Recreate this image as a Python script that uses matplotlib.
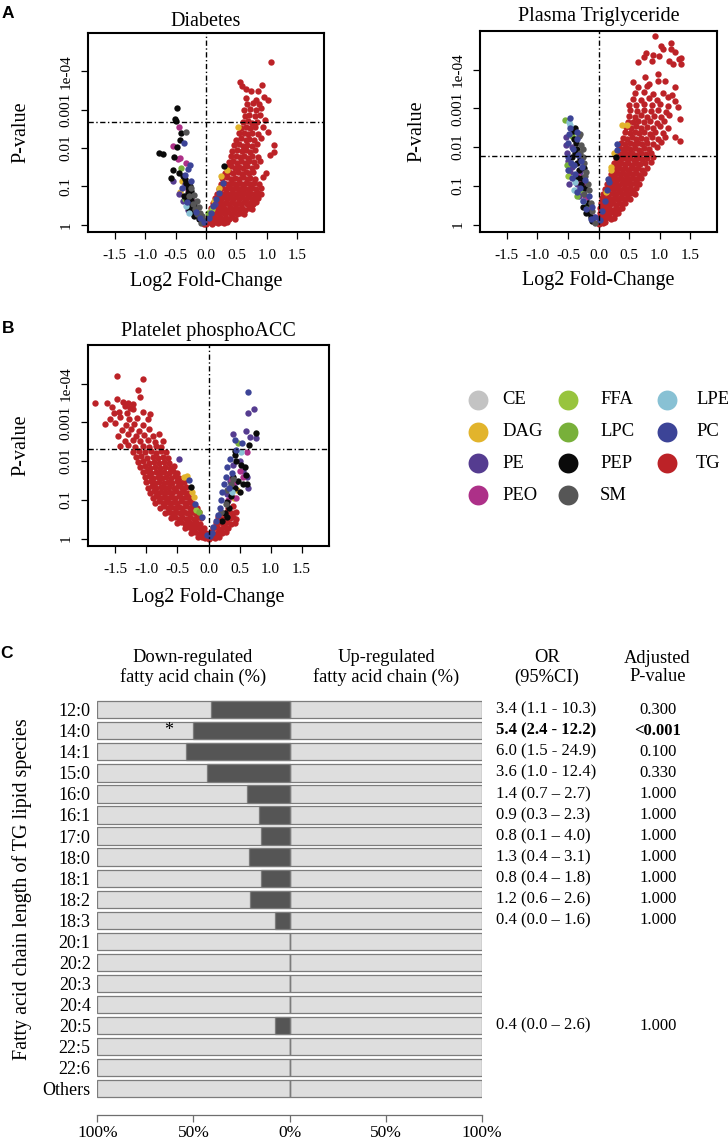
import matplotlib
matplotlib.use("Agg")
import matplotlib.pyplot as plt
from matplotlib.transforms import blended_transform_factory

plt.rcParams['font.family'] = ['Liberation Serif', 'DejaVu Serif']

W, H = 728, 1144

# lipid classes, legend order (column by column) and colours
CLASSES = ["CE", "DAG", "PE", "PEO", "FFA", "LPC", "PEP", "SM", "LPE", "PC", "TG"]
COLORS = ["#c3c3c3", "#e2b42c", "#553c90", "#ad3088", "#98c43e", "#78b03a",
          "#0a0a0a", "#565656", "#88c1d4", "#3c4497", "#bc2227"]

XTICKS = [-1.5, -1.0, -0.5, 0.0, 0.5, 1.0, 1.5]
XTICK_LABELS = ["-1.5", "-1.0", "-0.5", "0.0", "0.5", "1.0", "1.5"]
YTICKS = [0, 1, 2, 3, 4]  # -log10(p)
YTICK_LABELS = ["1", "0.1", "0.01", "0.001", "1e-04"]

# ---- Diabetes: (log2 fold-change, -log10 p) ----
diab_tg = [
    (-0.04, 0.03), (0.0, 0.02), (0.05, 0.06), (0.1, 0.03), (0.15, 0.07), (0.2, 0.04), (0.25, 0.08), (0.3, 0.05), (0.35, 0.07),
    (0.03, 0.17), (0.08, 0.14), (0.13, 0.19), (0.18, 0.15), (0.23, 0.2), (0.28, 0.15), (0.33, 0.18), (0.38, 0.14), (0.43, 0.19), (0.47, 0.16),
    (0.06, 0.3), (0.11, 0.27), (0.16, 0.32), (0.21, 0.28), (0.26, 0.33), (0.31, 0.29), (0.36, 0.34), (0.41, 0.28), (0.46, 0.32), (0.51, 0.27), (0.56, 0.31), (0.62, 0.29),
    (0.09, 0.43), (0.14, 0.4), (0.19, 0.45), (0.24, 0.41), (0.29, 0.44), (0.34, 0.39), (0.39, 0.45), (0.44, 0.41), (0.49, 0.44), (0.54, 0.4), (0.59, 0.43), (0.64, 0.39), (0.7, 0.44), (0.76, 0.41),
    (0.12, 0.56), (0.17, 0.53), (0.22, 0.58), (0.27, 0.54), (0.32, 0.57), (0.37, 0.53), (0.42, 0.58), (0.47, 0.54), (0.52, 0.57), (0.57, 0.53), (0.62, 0.58), (0.67, 0.54), (0.72, 0.57), (0.77, 0.53), (0.82, 0.58),
    (0.15, 0.69), (0.2, 0.72), (0.25, 0.68), (0.3, 0.71), (0.35, 0.67), (0.4, 0.72), (0.45, 0.68), (0.5, 0.71), (0.55, 0.67), (0.6, 0.72), (0.65, 0.68), (0.7, 0.71), (0.75, 0.67), (0.8, 0.72), (0.86, 0.69),
    (0.18, 0.81), (0.23, 0.84), (0.28, 0.8), (0.33, 0.83), (0.38, 0.79), (0.43, 0.84), (0.48, 0.8), (0.53, 0.83), (0.58, 0.79), (0.63, 0.84), (0.68, 0.8), (0.73, 0.83), (0.79, 0.79), (0.85, 0.84), (0.9, 0.81),
    (0.21, 0.94), (0.27, 0.97), (0.33, 0.93), (0.39, 0.96), (0.45, 0.92), (0.51, 0.97), (0.57, 0.93), (0.63, 0.96), (0.69, 0.92), (0.75, 0.97), (0.82, 0.93), (0.9, 0.97),
    (0.24, 1.07), (0.3, 1.1), (0.36, 1.06), (0.42, 1.09), (0.48, 1.05), (0.54, 1.1), (0.6, 1.06), (0.66, 1.09), (0.72, 1.05), (0.79, 1.1), (0.87, 1.07),
    (0.27, 1.21), (0.34, 1.24), (0.41, 1.2), (0.48, 1.23), (0.55, 1.19), (0.61, 1.24), (0.67, 1.2), (0.73, 1.23), (0.8, 1.19), (0.94, 1.25),
    (0.31, 1.36), (0.38, 1.38), (0.45, 1.34), (0.52, 1.37), (0.59, 1.33), (0.65, 1.38), (0.71, 1.34), (0.78, 1.37), (0.98, 1.35),
    (0.34, 1.5), (0.41, 1.52), (0.48, 1.48), (0.55, 1.51), (0.61, 1.47), (0.68, 1.52), (0.75, 1.49), (0.83, 1.53),
    (0.37, 1.64), (0.45, 1.66), (0.51, 1.62), (0.58, 1.65), (0.64, 1.61), (0.71, 1.66), (0.79, 1.63), (0.89, 1.67),
    (0.41, 1.78), (0.49, 1.8), (0.56, 1.76), (0.63, 1.79), (0.69, 1.75), (0.76, 1.8), (0.86, 1.77), (1.06, 1.81), (1.12, 1.9),
    (0.43, 1.93), (0.51, 1.95), (0.59, 1.91), (0.66, 1.94), (0.73, 1.9), (0.81, 1.95), (1.11, 2.08),
    (0.46, 2.08), (0.54, 2.1), (0.61, 2.06), (0.68, 2.09), (0.75, 2.05), (0.84, 2.1),
    (0.5, 2.22), (0.58, 2.25), (0.65, 2.21), (0.71, 2.24), (0.79, 2.2), (0.91, 2.26),
    (0.55, 2.38), (0.62, 2.4), (0.69, 2.36), (0.76, 2.39), (0.86, 2.37), (1.02, 2.42),
    (0.58, 2.52), (0.66, 2.55), (0.73, 2.51), (0.81, 2.54), (0.93, 2.56),
    (0.61, 2.68), (0.69, 2.7), (0.76, 2.66), (0.84, 2.69), (0.97, 2.72),
    (0.64, 2.84), (0.71, 2.87), (0.8, 2.83), (0.88, 2.86),
    (0.62, 3.0), (0.73, 3.02), (0.83, 2.98), (0.91, 3.04),
    (0.67, 3.15), (0.77, 3.18), (0.87, 3.14),
    (0.66, 3.3), (0.82, 3.26), (1.02, 3.26), (0.95, 3.32),
    (0.66, 3.54), (0.74, 3.48), (0.85, 3.5), (0.92, 3.65), (0.6, 3.63), (0.56, 3.72), (1.07, 4.24),
]
diab_pep = [(-0.48, 3.05), (-0.51, 2.77), (-0.49, 2.7), (-0.41, 2.4), (-0.42, 2.22), (-0.47, 2.02), (-0.77, 1.86),
            (-0.71, 1.85), (-0.53, 1.77), (-0.54, 1.44), (-0.58, 1.22), (-0.44, 1.35), (-0.38, 1.27), (-0.33, 1.09),
            (-0.27, 1.0), (-0.25, 0.88), (-0.3, 0.83), (-0.36, 0.75), (-0.25, 0.7), (-0.19, 0.57), (-0.27, 0.57),
            (-0.16, 0.44), (-0.21, 0.36), (-0.19, 0.22), (-0.3, 0.95), (-0.32, 0.65), (-0.23, 0.48), (-0.35, 1.18),
            (0.3, 1.53), (-0.12, 0.15), (-0.28, 0.42)]
diab_peo = [(-0.45, 2.55), (-0.55, 2.05), (-0.42, 1.74), (-0.46, 1.72), (-0.33, 1.6), (-0.3, 0.9), (-0.2, 0.6), (-0.25, 0.45)]
diab_sm = [(-0.33, 2.42), (-0.25, 0.95), (-0.2, 0.78), (-0.15, 0.62), (-0.22, 0.55), (-0.12, 0.45), (-0.18, 0.4),
           (-0.1, 0.3), (-0.07, 0.22), (-0.14, 0.28), (-0.05, 0.12), (-0.28, 0.75), (-0.09, 0.05)]
diab_pc = [(-0.36, 2.12), (-0.27, 1.56), (-0.3, 1.45), (-0.34, 1.3), (-0.24, 1.15), (-0.4, 0.95), (-0.31, 0.58),
           (-0.17, 0.32), (-0.1, 0.18), (0.22, 0.83), (0.17, 0.66), (0.11, 0.48), (0.08, 0.31), (0.05, 0.17),
           (0.28, 1.1), (-0.04, 0.08)]
diab_pe = [(-0.54, 1.13), (-0.45, 0.8), (-0.38, 0.62), (-0.29, 0.38), (-0.35, 1.05), (-0.2, 0.25), (0.14, 0.55)]
diab_dag = [(0.52, 2.55), (0.25, 1.27), (0.35, 1.42), (0.21, 0.96), (-0.39, 1.13), (-0.43, 0.86), (-0.26, 0.8), (0.13, 0.62)]
diab_lpe = [(-0.33, 0.5), (-0.28, 0.3)]
diab_lpc = [(-0.41, 1.48), (0.04, 0.3), (-0.35, 0.68)]
diab_ffa = [(0.1, 0.42)]

# ---- Plasma Triglyceride ----
tg_tg = [
    (0.0, 0.02), (0.03, 0.06), (0.07, 0.04), (0.11, 0.08),
    (0.01, 0.17), (0.05, 0.15), (0.09, 0.19), (0.13, 0.16), (0.17, 0.2), (0.21, 0.15), (0.26, 0.18),
    (0.02, 0.3), (0.07, 0.28), (0.12, 0.32), (0.17, 0.29), (0.22, 0.33), (0.27, 0.28), (0.32, 0.31),
    (0.03, 0.42), (0.08, 0.44), (0.13, 0.4), (0.18, 0.43), (0.23, 0.39), (0.28, 0.44), (0.33, 0.41), (0.38, 0.43),
    (0.04, 0.55), (0.09, 0.52), (0.14, 0.56), (0.19, 0.53), (0.24, 0.57), (0.29, 0.52), (0.34, 0.56), (0.39, 0.53), (0.44, 0.57),
    (0.06, 0.68), (0.11, 0.66), (0.16, 0.7), (0.21, 0.66), (0.26, 0.69), (0.31, 0.65), (0.36, 0.7), (0.41, 0.67), (0.46, 0.7), (0.51, 0.66),
    (0.08, 0.8), (0.13, 0.83), (0.18, 0.79), (0.23, 0.82), (0.28, 0.78), (0.33, 0.83), (0.38, 0.79), (0.43, 0.82), (0.48, 0.78), (0.54, 0.82), (0.59, 0.79),
    (0.11, 0.93), (0.16, 0.91), (0.21, 0.95), (0.26, 0.91), (0.31, 0.94), (0.36, 0.9), (0.41, 0.95), (0.46, 0.91), (0.51, 0.94), (0.56, 0.9), (0.62, 0.95),
    (0.14, 1.06), (0.19, 1.08), (0.24, 1.04), (0.29, 1.07), (0.34, 1.03), (0.39, 1.08), (0.44, 1.05), (0.49, 1.08), (0.54, 1.04), (0.6, 1.07), (0.66, 1.05),
    (0.17, 1.19), (0.22, 1.17), (0.27, 1.21), (0.32, 1.17), (0.37, 1.2), (0.42, 1.16), (0.47, 1.21), (0.52, 1.17), (0.57, 1.2), (0.63, 1.17), (0.7, 1.21),
    (0.2, 1.32), (0.25, 1.3), (0.3, 1.34), (0.35, 1.3), (0.4, 1.33), (0.45, 1.29), (0.5, 1.34), (0.55, 1.3), (0.61, 1.33), (0.67, 1.29), (0.75, 1.34),
    (0.23, 1.45), (0.28, 1.43), (0.33, 1.47), (0.38, 1.43), (0.43, 1.46), (0.48, 1.42), (0.53, 1.47), (0.59, 1.43), (0.65, 1.46), (0.72, 1.42), (0.8, 1.47),
    (0.25, 1.58), (0.31, 1.56), (0.37, 1.6), (0.43, 1.56), (0.49, 1.59), (0.55, 1.55), (0.61, 1.6), (0.68, 1.56), (0.76, 1.59), (0.86, 1.62),
    (0.28, 1.71), (0.34, 1.69), (0.4, 1.73), (0.46, 1.69), (0.52, 1.72), (0.58, 1.68), (0.65, 1.73), (0.72, 1.69), (0.8, 1.72), (0.9, 1.75),
    (0.31, 1.84), (0.37, 1.82), (0.43, 1.86), (0.49, 1.82), (0.55, 1.85), (0.62, 1.81), (0.69, 1.86), (0.77, 1.82), (0.86, 1.86),
    (0.34, 1.97), (0.4, 1.95), (0.46, 1.99), (0.52, 1.95), (0.59, 1.98), (0.66, 1.94), (0.74, 1.99), (0.83, 1.95), (0.95, 2.0),
    (0.37, 2.1), (0.44, 2.08), (0.51, 2.12), (0.58, 2.08), (0.65, 2.11), (0.72, 2.07), (0.8, 2.12), (0.9, 2.08), (1.02, 2.13),
    (0.4, 2.24), (0.47, 2.22), (0.55, 2.26), (0.62, 2.22), (0.7, 2.25), (0.78, 2.21), (0.87, 2.26), (0.97, 2.22), (1.09, 2.27), (1.25, 2.26),
    (0.43, 2.38), (0.51, 2.36), (0.59, 2.4), (0.67, 2.36), (0.75, 2.39), (0.84, 2.35), (0.93, 2.4), (1.06, 2.37), (1.33, 2.17),
    (0.45, 2.52), (0.53, 2.5), (0.62, 2.54), (0.7, 2.5), (0.79, 2.53), (0.89, 2.49), (1.0, 2.54), (1.13, 2.5),
    (0.48, 2.66), (0.56, 2.64), (0.65, 2.68), (0.74, 2.64), (0.84, 2.67), (0.95, 2.63), (1.08, 2.68),
    (0.5, 2.8), (0.6, 2.78), (0.7, 2.82), (0.8, 2.78), (0.91, 2.81), (1.03, 2.77), (1.15, 2.84), (1.33, 2.73),
    (0.52, 2.95), (0.63, 2.93), (0.74, 2.97), (0.86, 2.93), (0.98, 2.96), (1.1, 2.92),
    (0.5, 3.1), (0.62, 3.08), (0.75, 3.12), (0.88, 3.08), (1.01, 3.11), (1.14, 3.07), (1.3, 3.03),
    (0.56, 3.25), (0.7, 3.23), (0.83, 3.27), (0.96, 3.23), (1.14, 3.29), (1.25, 3.2),
    (0.6, 3.4), (0.74, 3.42), (0.9, 3.38), (1.05, 3.41), (1.2, 3.36),
    (0.65, 3.55), (0.8, 3.57), (0.98, 3.72), (1.09, 3.72), (1.25, 3.55),
    (0.57, 3.68), (0.76, 3.8), (0.82, 3.63), (0.98, 3.89),
    (0.93, 4.87), (1.02, 4.62), (1.18, 4.68), (1.06, 4.54), (1.19, 4.54), (0.99, 4.36), (1.25, 4.45),
    (1.35, 4.3), (1.35, 4.15), (1.31, 4.28), (1.16, 4.23), (1.22, 4.15), (0.77, 4.42), (0.75, 4.32),
    (0.65, 4.19), (0.9, 4.39), (0.88, 4.22),
]
tg_pc = [(-0.47, 2.76), (-0.35, 2.39), (-0.48, 2.35), (-0.5, 2.1), (-0.36, 2.2), (-0.42, 1.95), (-0.33, 1.8),
         (-0.5, 1.75), (-0.45, 1.6), (-0.28, 1.65), (-0.27, 1.5), (-0.5, 1.4), (-0.38, 1.3), (-0.44, 1.2),
         (-0.22, 1.15), (-0.3, 0.95), (-0.36, 0.85), (-0.15, 0.75), (-0.26, 0.62), (-0.1, 0.45), (-0.2, 0.4),
         (-0.05, 0.2), (-0.12, 0.15), (0.3, 2.09), (0.3, 1.94), (0.16, 1.19), (0.17, 1.1), (0.14, 0.9),
         (0.1, 0.6), (0.06, 0.35), (0.02, 0.12), (-0.4, 1.55), (-0.46, 2.5)]
tg_pe = [(-0.53, 2.27), (-0.52, 1.85), (-0.5, 1.65), (-0.44, 1.5), (-0.4, 1.2), (-0.35, 1.05), (-0.25, 0.85),
         (-0.2, 0.65), (-0.48, 1.05), (-0.3, 1.35), (-0.43, 2.0), (-0.54, 2.05), (-0.46, 1.35), (-0.32, 0.75),
         (-0.14, 0.35)]
tg_pep = [(-0.4, 2.2), (-0.37, 2.12), (-0.43, 1.75), (-0.36, 1.6), (-0.3, 1.7), (-0.32, 1.4), (-0.27, 1.2),
          (-0.22, 0.95), (-0.18, 0.55), (-0.15, 0.3), (-0.12, 0.2), (-0.25, 0.45), (0.28, 1.74), (-0.38, 1.85),
          (-0.34, 1.2), (-0.2, 0.3), (-0.38, 2.5), (-0.41, 2.42), (-0.35, 1.95), (-0.28, 1.05), (-0.1, 0.1),
          (-0.24, 1.45)]
tg_sm = [(-0.3, 2.35), (-0.32, 2.28), (-0.26, 1.95), (-0.24, 1.6), (-0.2, 1.35), (-0.18, 1.05), (-0.23, 0.78),
         (-0.13, 0.55), (-0.1, 0.35), (-0.16, 0.9), (-0.22, 1.25), (-0.28, 2.05), (-0.3, 1.85), (-0.06, 0.05),
         (-0.25, 1.75)]
tg_peo = [(-0.3, 1.1), (-0.27, 1.0), (-0.22, 0.7), (-0.16, 0.5), (-0.34, 1.25), (-0.08, 0.2), (-0.31, 0.92), (-0.2, 1.05)]
tg_lpc = [(-0.55, 2.69), (-0.43, 2.3), (-0.52, 1.55), (-0.27, 0.9), (-0.35, 0.75), (-0.2, 0.5)]
tg_ffa = [(-0.5, 1.25)]
tg_lpe = [(-0.48, 2.65), (-0.46, 2.57), (-0.38, 1.1), (-0.4, 0.9), (-0.25, 0.6)]
tg_dag = [(0.38, 2.58), (0.46, 2.58), (0.21, 1.5), (0.21, 1.4), (0.13, 0.84), (0.25, 1.85)]

# ---- Platelet phosphoACC ----
acc_tg = [
    (-0.17, 0.03), (-0.11, 0.05), (-0.05, 0.02), (0.0, 0.0), (0.05, 0.04), (0.11, 0.02), (0.17, 0.05),
    (-0.28, 0.15), (-0.22, 0.17), (-0.16, 0.13), (-0.1, 0.16), (-0.04, 0.14), (0.04, 0.16), (0.1, 0.13), (0.16, 0.17), (0.22, 0.14), (0.28, 0.16),
    (-0.38, 0.28), (-0.32, 0.3), (-0.26, 0.26), (-0.2, 0.29), (-0.14, 0.25), (-0.08, 0.28), (0.08, 0.27), (0.14, 0.3), (0.2, 0.26), (0.26, 0.29), (0.32, 0.27),
    (-0.5, 0.41), (-0.44, 0.43), (-0.38, 0.39), (-0.32, 0.42), (-0.26, 0.38), (-0.2, 0.42), (-0.14, 0.39), (0.12, 0.4), (0.18, 0.43), (0.24, 0.39), (0.3, 0.42), (0.36, 0.38), (0.42, 0.41),
    (-0.6, 0.54), (-0.54, 0.56), (-0.48, 0.52), (-0.42, 0.55), (-0.36, 0.51), (-0.3, 0.55), (-0.24, 0.52), (-0.18, 0.56), (-0.12, 0.53), (0.16, 0.55), (0.22, 0.52), (0.28, 0.56), (0.34, 0.53), (0.4, 0.56), (0.44, 0.52),
    (-0.7, 0.67), (-0.64, 0.7), (-0.58, 0.66), (-0.52, 0.69), (-0.46, 0.65), (-0.4, 0.69), (-0.34, 0.66), (-0.28, 0.7), (-0.22, 0.66), (-0.16, 0.69), (0.22, 0.66), (0.3, 0.7), (0.38, 0.66), (0.44, 0.69),
    (-0.78, 0.8), (-0.72, 0.83), (-0.66, 0.79), (-0.6, 0.82), (-0.54, 0.78), (-0.48, 0.82), (-0.42, 0.79), (-0.36, 0.83), (-0.3, 0.79), (-0.24, 0.82), (-0.19, 0.8), (0.32, 0.8), (0.4, 0.83),
    (-0.86, 0.93), (-0.8, 0.96), (-0.74, 0.92), (-0.68, 0.95), (-0.62, 0.91), (-0.56, 0.95), (-0.5, 0.92), (-0.44, 0.96), (-0.38, 0.92), (-0.32, 0.95), (-0.26, 0.92),
    (-0.9, 1.06), (-0.84, 1.09), (-0.78, 1.05), (-0.72, 1.08), (-0.66, 1.04), (-0.6, 1.08), (-0.54, 1.05), (-0.48, 1.09), (-0.42, 1.05), (-0.36, 1.08), (-0.3, 1.05),
    (-0.94, 1.19), (-0.88, 1.22), (-0.82, 1.18), (-0.76, 1.21), (-0.7, 1.17), (-0.64, 1.21), (-0.58, 1.18), (-0.52, 1.22), (-0.46, 1.18), (-0.4, 1.21), (-0.33, 1.18),
    (-0.98, 1.32), (-0.91, 1.35), (-0.84, 1.31), (-0.77, 1.34), (-0.7, 1.3), (-0.63, 1.34), (-0.56, 1.31), (-0.49, 1.35), (-0.42, 1.31), (-0.36, 1.33),
    (-1.0, 1.45), (-0.93, 1.48), (-0.86, 1.44), (-0.79, 1.47), (-0.72, 1.43), (-0.65, 1.47), (-0.58, 1.44), (-0.51, 1.48), (-0.44, 1.44), (-0.39, 1.46),
    (-1.03, 1.58), (-0.96, 1.61), (-0.89, 1.57), (-0.82, 1.6), (-0.75, 1.56), (-0.68, 1.6), (-0.61, 1.57), (-0.54, 1.61), (-0.47, 1.57),
    (-1.06, 1.71), (-0.99, 1.74), (-0.92, 1.7), (-0.85, 1.73), (-0.78, 1.69), (-0.71, 1.73), (-0.64, 1.7), (-0.57, 1.74), (-0.5, 1.7),
    (-1.1, 1.84), (-1.02, 1.87), (-0.94, 1.83), (-0.86, 1.86), (-0.78, 1.82), (-0.7, 1.86), (-0.62, 1.83), (-0.55, 1.87),
    (-1.14, 1.97), (-1.05, 2.0), (-0.96, 1.96), (-0.88, 1.99), (-0.8, 1.95), (-0.72, 1.99), (-0.64, 1.96),
    (-1.17, 2.1), (-1.08, 2.13), (-0.99, 2.09), (-0.9, 2.12), (-0.82, 2.08), (-0.74, 2.12), (-0.66, 2.09),
    (-1.22, 2.24), (-1.12, 2.27), (-1.02, 2.23), (-0.93, 2.26), (-0.84, 2.22), (-0.76, 2.26), (-0.68, 2.23),
    (-1.42, 2.38), (-1.3, 2.41), (-1.18, 2.37), (-1.06, 2.4), (-0.95, 2.36), (-0.85, 2.4), (-0.76, 2.37),
    (-1.35, 2.52), (-1.22, 2.55), (-1.1, 2.51), (-0.98, 2.54), (-0.86, 2.5), (-0.74, 2.53),
    (-1.45, 2.66), (-1.3, 2.69), (-1.16, 2.65), (-1.04, 2.68), (-0.9, 2.64), (-0.8, 2.7),
    (-1.4, 2.8), (-1.25, 2.83), (-1.12, 2.79), (-0.96, 2.82),
    (-1.66, 2.95), (-1.5, 2.98), (-1.33, 2.94), (-1.2, 2.97), (-1.05, 2.93),
    (-1.59, 3.1), (-1.42, 3.13), (-1.28, 3.09), (-1.15, 3.12), (-0.97, 3.08),
    (-1.52, 3.25), (-1.44, 3.28), (-1.32, 3.24), (-1.05, 3.27), (-0.94, 3.23),
    (-1.56, 3.4), (-1.35, 3.42), (-1.27, 3.38), (-1.22, 3.36),
    (-1.83, 3.5), (-1.64, 3.5), (-1.48, 3.61), (-1.38, 3.52), (-1.3, 3.5), (-1.22, 3.48),
    (-1.1, 3.67), (-1.13, 3.85), (-1.06, 4.11), (-1.48, 4.19),
]
acc_pc = [(0.63, 3.78), (0.54, 2.47), (0.42, 2.55), (0.35, 2.05), (0.3, 1.85), (0.28, 1.6), (0.25, 1.4), (0.22, 1.2),
          (0.2, 1.0), (0.18, 0.8), (0.15, 0.6), (0.12, 0.45), (0.08, 0.3), (0.05, 0.15), (0.38, 1.7), (0.33, 1.3),
          (-0.32, 1.52), (-0.22, 0.9), (-0.1, 0.56), (0.45, 2.3), (0.02, 0.08), (-0.03, 0.1)]
acc_pe = [(0.74, 3.35), (0.64, 3.25), (0.4, 2.69), (0.6, 2.77), (0.77, 2.6), (0.67, 2.62), (0.62, 1.6), (0.64, 1.3),
          (0.5, 2.0), (0.45, 1.45), (0.35, 1.5), (0.3, 1.15), (-0.47, 2.06), (0.56, 1.75), (0.4, 1.9)]
acc_pep = [(0.77, 2.73), (0.65, 2.42), (0.42, 2.27), (0.42, 2.15), (0.45, 2.0), (0.52, 1.9), (0.58, 1.85), (0.6, 1.65),
           (0.55, 1.4), (0.47, 1.5), (0.4, 1.6), (0.35, 1.3), (0.37, 1.1), (0.3, 0.95), (0.33, 0.8), (0.26, 0.65),
           (0.3, 0.55), (0.22, 0.45), (0.62, 1.4), (-0.28, 1.33), (0.5, 1.2), (0.42, 1.3)]
acc_peo = [(0.62, 2.25), (0.55, 1.6), (0.5, 1.75), (0.4, 1.4), (0.32, 1.0), (0.45, 1.05), (0.36, 1.55)]
acc_sm = [(0.36, 1.4), (0.3, 1.25), (0.28, 0.9), (0.4, 1.55), (0.2, 0.7)]
acc_lpe = [(0.53, 2.25), (0.38, 1.2)]
acc_lpc = [(0.48, 2.47), (-0.15, 0.68)]
acc_ffa = [(-0.2, 0.75)]
acc_dag = [(0.41, 1.05), (0.46, 1.25), (-0.4, 1.58), (-0.26, 1.2), (-0.23, 1.07), (-0.34, 1.63)]

# significance cut-offs (-log10 p)
diab_cut, tg_cut, acc_cut = 2.67, 1.77, 2.31

# ---- panel C: TG fatty acid chains ----
chain_labels = ["12:0", "14:0", "14:1", "15:0", "16:0", "16:1", "17:0", "18:0", "18:1", "18:2",
                "18:3", "20:1", "20:2", "20:3", "20:4", "20:5", "22:5", "22:6", "Others"]
down_pct = [41, 50, 54, 43, 22, 16, 15, 21, 15, 20.5, 7.5, 0, 0, 0, 0, 7.5, 0, 0, 0]
up_pct = [0, 0, 0, 0, 0, 0, 0, 0, 0, 0, 0, 0, 0, 0, 0, 0, 0, 0, 0]
or_text = ["3.4 (1.1 - 10.3)", "5.4 (2.4 - 12.2)", "6.0 (1.5 - 24.9)", "3.6 (1.0 - 12.4)",
           "1.4 (0.7 \u2013 2.7)", "0.9 (0.3 \u2013 2.3)", "0.8 (0.1 \u2013 4.0)", "1.3 (0.4 \u2013 3.1)",
           "0.8 (0.4 \u2013 1.8)", "1.2 (0.6 \u2013 2.6)", "0.4 (0.0 \u2013 1.6)", "", "", "", "",
           "0.4 (0.0 \u2013 2.6)", "", "", ""]
p_text = ["0.300", "<0.001", "0.100", "0.330", "1.000", "1.000", "1.000", "1.000", "1.000", "1.000",
          "1.000", "", "", "", "", "1.000", "", "", ""]
bold_rows = [1]
star_rows = [1]

DOTDASH = (0, (3.8, 1.8, 1, 1.8))

fig = plt.figure(figsize=(W / 100, H / 100), dpi=100)

# pixel-coordinate overlay for free text and legend
ov = fig.add_axes([0, 0, 1, 1])
ov.set_xlim(0, W)
ov.set_ylim(H, 0)
ov.set_axis_off()


def px_axes(x0, y0, x1, y1):
    return fig.add_axes([x0 / W, 1 - y1 / H, (x1 - x0) / W, (y1 - y0) / H])


def volcano(ax, title, groups, cut, title_pad, ylab_x, xlab_y):
    order = ["TG"] + [c for c in CLASSES if c != "TG"]
    for cls in order:
        pts = groups.get(cls, [])
        if not pts:
            continue
        ax.scatter([p[0] for p in pts], [p[1] for p in pts], s=21,
                   color=COLORS[CLASSES.index(cls)], linewidths=0, zorder=2)
    ax.axvline(0, color="black", lw=1.0, ls=DOTDASH, zorder=3)
    ax.axhline(cut, color="black", lw=1.0, ls=DOTDASH, zorder=3)
    ax.set_xlim(-1.94, 1.94)
    ax.set_ylim(-0.19, 5.0)
    ax.set_xticks(XTICKS)
    ax.set_xticklabels(XTICK_LABELS)
    ax.set_yticks(YTICKS)
    ax.set_yticklabels(YTICK_LABELS, rotation=90, va="center")
    ax.tick_params(direction="out", length=5, width=0.9, labelsize=11)
    ax.tick_params(axis="x", pad=7)
    ax.tick_params(axis="y", pad=6)
    for sp in ax.spines.values():
        sp.set_linewidth(1.5)
    ax.set_title(title, fontsize=14.5, pad=title_pad)
    ax.set_xlabel("Log2 Fold-Change", fontsize=14.5, va="center")
    ax.xaxis.set_label_coords(0.5, xlab_y)
    ax.set_ylabel("P-value", fontsize=14.5, va="center")
    ax.yaxis.set_label_coords(ylab_x, 0.5)


ax1 = px_axes(88, 33, 324, 232)
volcano(ax1, "Diabetes",
        {"TG": diab_tg, "PEP": diab_pep, "PEO": diab_peo, "SM": diab_sm, "PC": diab_pc, "PE": diab_pe,
         "DAG": diab_dag, "LPE": diab_lpe, "LPC": diab_lpc, "FFA": diab_ffa},
        diab_cut, 4.8, -0.285, -0.251)

ax2 = px_axes(480, 31, 717, 232)
volcano(ax2, "Plasma Triglyceride",
        {"TG": tg_tg, "PC": tg_pc, "PE": tg_pe, "PEP": tg_pep, "SM": tg_sm, "PEO": tg_peo,
         "LPC": tg_lpc, "FFA": tg_ffa, "LPE": tg_lpe, "DAG": tg_dag},
        tg_cut, 7.0, -0.265, -0.24)

ax3 = px_axes(88, 345, 329, 546)
volcano(ax3, "Platelet phosphoACC",
        {"TG": acc_tg, "PC": acc_pc, "PE": acc_pe, "PEP": acc_pep, "PEO": acc_peo, "SM": acc_sm,
         "LPE": acc_lpe, "LPC": acc_lpc, "FFA": acc_ffa, "DAG": acc_dag},
        acc_cut, 6.5, -0.279, -0.254)

# legend
leg_cx = [478, 568, 667]
leg_tx = [502, 600, 696]
leg_cy = [400, 431.7, 463.3, 495]
for i, cls in enumerate(CLASSES):
    col, row = i // 4, i % 4
    ov.scatter([leg_cx[col]], [leg_cy[row]], s=205, color=COLORS[i], linewidths=0)
    ov.text(leg_tx[col], leg_cy[row], cls, fontsize=13.4, ha="left", va="center")

# panel letters
for letter, (lx, ly) in zip("ABC", [(2, 18.3), (1.5, 333.3), (0.5, 657.5)]):
    ov.text(lx, ly, letter, fontsize=12.5, fontweight="bold", family="Liberation Sans",
            ha="left", va="baseline")

# ---- panel C ----
axc = px_axes(97.3, 699.2, 482, 1115)
rows = list(range(len(chain_labels)))
LIGHT, DARK, EDGE = "#dedede", "#555555", "#7c7c7c"
axc.barh(rows, -100, height=0.82, color=LIGHT, edgecolor=EDGE, lw=0.9)
axc.barh(rows, 100, height=0.82, color=LIGHT, edgecolor=EDGE, lw=0.9)
axc.barh(rows, [-v for v in down_pct], height=0.82, color=DARK, edgecolor=EDGE, lw=0.9)
axc.barh(rows, up_pct, height=0.82, color=DARK, edgecolor=EDGE, lw=0.9)
axc.set_xlim(-100, 100)
axc.set_ylim(19.25, -0.5)
axc.set_xticks([-100, -50, 0, 50, 100])
axc.set_xticklabels(["100%", "50%", "0%", "50%", "100%"])
axc.set_yticks(rows)
axc.set_yticklabels(chain_labels)
for side in ["top", "left", "right"]:
    axc.spines[side].set_visible(False)
axc.spines["bottom"].set_color("#6e6e6e")
axc.spines["bottom"].set_linewidth(0.9)
axc.tick_params(axis="x", length=5, width=0.9, color="#6e6e6e", labelsize=12.5, pad=2.5)
axc.tick_params(axis="y", length=0, labelsize=13, pad=4.8)
for r in star_rows:
    axc.text(-62.7, r, "*", fontsize=13, ha="center", va="center")

tr = blended_transform_factory(ov.transData, axc.transData)
for r in rows:
    wt = "bold" if r in bold_rows else "normal"
    if or_text[r]:
        ov.text(496.5, r, or_text[r], transform=tr, fontsize=12, fontweight=wt, ha="left", va="center")
    if p_text[r]:
        ov.text(657.7, r, p_text[r], transform=tr, fontsize=12, fontweight=wt, ha="center", va="center")

ov.text(193, 667.5, "Down-regulated\nfatty acid chain (%)", fontsize=13.3, ha="center", va="center", linespacing=1.15)
ov.text(386, 667.5, "Up-regulated\nfatty acid chain (%)", fontsize=13.3, ha="center", va="center", linespacing=1.15)
ov.text(546.7, 667.5, "OR\n(95%CI)", fontsize=13.3, ha="center", va="center", linespacing=1.15)
ov.text(657.3, 667.5, "Adjusted\nP-value", fontsize=13.3, ha="center", va="center", linespacing=1.15)
ov.text(22.5, 889, "Fatty acid chain length of TG lipid species", fontsize=14.5, rotation=90,
        ha="center", va="center")

fig.savefig("out.png", dpi=100)
